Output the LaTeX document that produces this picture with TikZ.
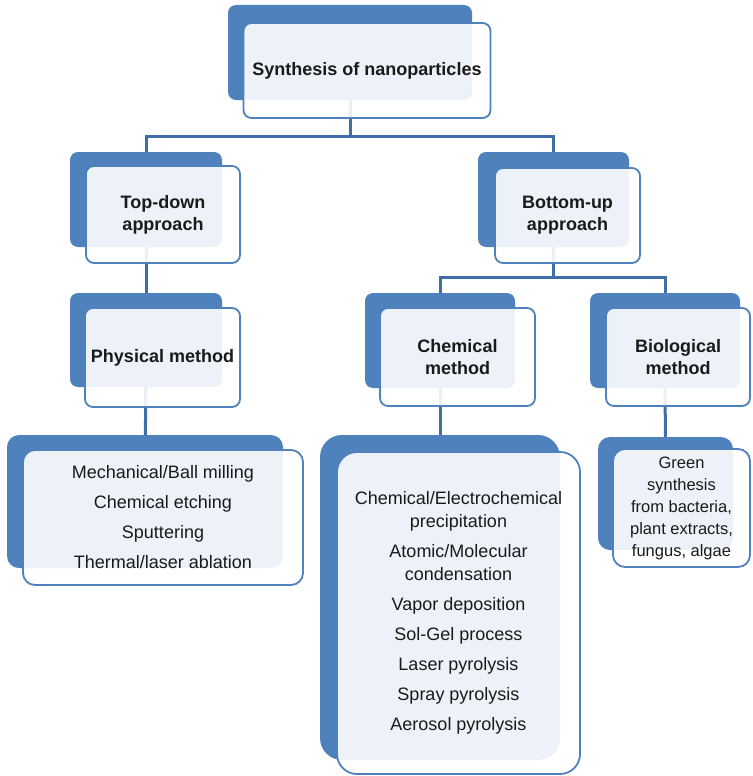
\documentclass[tikz,border=0pt]{standalone}
\usepackage{fontspec}
\setmainfont{Liberation Sans}
\pgfdeclarelayer{bg}
\pgfsetlayers{bg,main}
\definecolor{boxblue}{HTML}{4F81BD}
\definecolor{linkblue}{HTML}{3E6DA8}
\definecolor{txt}{HTML}{1A1A1A}
\begin{document}
\begin{tikzpicture}[x=1pt,y=-1pt,
  back/.style={fill=boxblue, draw=none, rounded corners=8pt, inner sep=0pt},
  front/.style={fill=white, fill opacity=0.9, text opacity=1, draw=boxblue, line width=1.8pt,
                rounded corners=8pt, inner sep=0pt, align=center, text=txt},
  head/.style={font=\fontsize{18}{22}\selectfont\bfseries},
  item/.style={font=\fontsize{18}{23}\selectfont},
  link/.style={draw=linkblue, line width=3pt}]
\useasboundingbox (0,0) rectangle (752,776);

% top
\node[back, minimum width=244pt, minimum height=95pt] (topB) at (350,52.5) {};
\node[front, head, minimum width=247pt, minimum height=95pt] (top) at (367,70.5) {Synthesis of nanoparticles};

% top-down
\node[back, minimum width=152pt, minimum height=95pt] (tdB) at (146,199.5) {};
\node[front, head, minimum width=154pt, minimum height=97pt] (td) at (163,214.5) {Top-down\\approach};

% bottom-up
\node[back, minimum width=151pt, minimum height=95pt] (buB) at (553.5,199.5) {};
\node[front, head, minimum width=145pt, minimum height=95pt] (bu) at (567.5,215.5) {Bottom-up\\approach};

% physical
\node[back, minimum width=152pt, minimum height=94pt] (phB) at (146,340) {};
\node[front, head, minimum width=155pt, minimum height=99pt] (ph) at (162.5,357.5) {Physical method};

% chemical
\node[back, minimum width=150pt, minimum height=95pt] (chB) at (440,340.5) {};
\node[front, head, minimum width=155pt, minimum height=98pt] (ch) at (457.5,357) {Chemical\\method};

% biological
\node[back, minimum width=150pt, minimum height=95pt] (biB) at (665,340.5) {};
\node[front, head, minimum width=144pt, minimum height=98pt] (bi) at (678,357) {Biological\\method};

% physical list
\node[back, rounded corners=12pt, minimum width=276pt, minimum height=133pt] (plB) at (145,501.5) {};
\node[front, item, rounded corners=12pt, minimum width=280pt, minimum height=135pt,
      font=\fontsize{18}{30}\selectfont] (pl) at (163,517.5)
  {Mechanical/Ball milling\\Chemical etching\\Sputtering\\Thermal/laser ablation};

% chemical list
\node[back, rounded corners=22pt, minimum width=240pt, minimum height=325pt] (clB) at (440,597.5) {};
\node[front, item, rounded corners=20pt, minimum width=243pt, minimum height=322pt] (cl) at (458.5,613)
  {Chemical/Electrochemical\\precipitation\\[7pt]Atomic/Molecular\\condensation\\[7pt]Vapor deposition\\[7pt]Sol-Gel process\\[7pt]Laser pyrolysis\\[7pt]Spray pyrolysis\\[7pt]Aerosol pyrolysis};

% biological list
\node[back, rounded corners=12pt, minimum width=135pt, minimum height=113pt] (blB) at (665.5,493.5) {};
\node[front, item, rounded corners=12pt, minimum width=137pt, minimum height=118pt,
      font=\fontsize{16.5}{22}\selectfont] (bl) at (681.5,508)
  {Green\\synthesis\\from bacteria,\\plant extracts,\\fungus, algae};

% connectors
\begin{pgfonlayer}{bg}
\coordinate (j1) at (350,136);
\coordinate (j2) at (553.5,277);
\draw[link] (topB.center) -- (j1);
\draw[link] (tdB.center) -- (tdB.center |- j1) -- (buB.center |- j1) -- (buB.center);
\draw[link] (tdB.center) -- (phB.center);
\draw[link] (phB.center) -- (plB.center);
\draw[link] (buB.center) -- (j2);
\draw[link] (chB.center) -- (chB.center |- j2) -- (biB.center |- j2) -- (biB.center);
\draw[link] (chB.center) -- (clB.center);
\draw[link] (biB.center) -- (blB.center);
\end{pgfonlayer}
\end{tikzpicture}
\end{document}
